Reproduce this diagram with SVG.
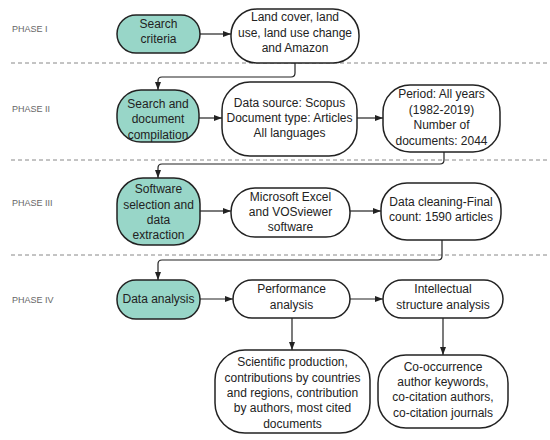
<svg xmlns="http://www.w3.org/2000/svg" width="550" height="440" viewBox="0 0 550 440">
<defs>
<marker id="ah" markerUnits="userSpaceOnUse" markerWidth="8" markerHeight="8" viewBox="0 0 8 8" refX="8" refY="4" orient="auto">
<path d="M0,1 L8,4 L0,7 Z" fill="#222"/>
</marker>
<style>
.n{fill:#fff;stroke:#222;stroke-width:1.5}
.t{fill:#98d6c8}
.tx{font-family:"Liberation Sans",Arial,sans-serif;font-size:12px;fill:#222;text-anchor:middle}
.ph{font-family:"Liberation Sans",Arial,sans-serif;font-size:9px;fill:#666}
.d{stroke:#888;stroke-width:1;stroke-dasharray:4,3;fill:none}
.c{stroke:#222;stroke-width:1.2;fill:none;marker-end:url(#ah)}
</style>
</defs>
<rect width="550" height="440" fill="#fff"/>
<g id="labels">
<text class="ph" x="12" y="31.5">PHASE I</text>
<text class="ph" x="12" y="111.5">PHASE II</text>
<text class="ph" x="12" y="205.5">PHASE III</text>
<text class="ph" x="12" y="302.5">PHASE IV</text>
</g>
<g id="dividers">
<line class="d" x1="11" y1="63" x2="548" y2="63"/>
<line class="d" x1="11" y1="160" x2="548" y2="160"/>
<line class="d" x1="11" y1="255" x2="548" y2="255"/>
</g>
<g id="connectors">
<path class="c" d="M200,34 H231"/>
<path class="c" d="M295,63 V73 Q295,77 291,77 H162 Q158,77 158,81 V90"/>
<path class="c" d="M199,118 H222"/>
<path class="c" d="M357,118 H383"/>
<path class="c" d="M444,152 V160 Q444,164 440,164 H162 Q158,164 158,168 V178"/>
<path class="c" d="M200,211 H231"/>
<path class="c" d="M350,211 H381"/>
<path class="c" d="M442,240 V256 Q442,260 438,260 H162 Q158,260 158,264 V280"/>
<path class="c" d="M200,299 H233"/>
<path class="c" d="M350,299 H383"/>
<path class="c" d="M292,318 V350"/>
<path class="c" d="M443,318 V355"/>
</g>
<g id="n1"><rect class="n t" x="117" y="15" width="83" height="38" rx="19"/>
<text class="tx"><tspan x="158.5" y="28.3">Search</tspan><tspan x="158.5" y="43.3">criteria</tspan></text></g>
<g id="n2"><rect class="n" x="231" y="9" width="128" height="54" rx="26"/>
<text class="tx"><tspan x="295" y="21">Land cover, land</tspan><tspan x="295" y="36.5">use, land use change</tspan><tspan x="295" y="52">and Amazon</tspan></text></g>
<g id="n3"><rect class="n t" x="117" y="90" width="82" height="52" rx="24"/>
<text class="tx"><tspan x="158" y="108.3">Search and</tspan><tspan x="158" y="123.3">document</tspan><tspan x="158" y="138.8">compilation</tspan></text></g>
<g id="n4"><rect class="n" x="222" y="82" width="135" height="74" rx="28"/>
<text class="tx"><tspan x="289.5" y="107.3">Data source: Scopus</tspan><tspan x="289.5" y="122.3">Document type: Articles</tspan><tspan x="289.5" y="137.3">All languages</tspan></text></g>
<g id="n5"><rect class="n" x="383" y="85" width="117" height="67" rx="27"/>
<text class="tx"><tspan x="441.5" y="98.3">Period: All years</tspan><tspan x="441.5" y="113.8">(1982-2019)</tspan><tspan x="441.5" y="129.3">Number of</tspan><tspan x="441.5" y="144.5">documents: 2044</tspan></text></g>
<g id="n6"><rect class="n t" x="117" y="178" width="83" height="67" rx="26"/>
<text class="tx"><tspan x="158.5" y="193.3">Software</tspan><tspan x="158.5" y="208.5">selection and</tspan><tspan x="158.5" y="223.5">data</tspan><tspan x="158.5" y="239">extraction</tspan></text></g>
<g id="n7"><rect class="n" x="231" y="188" width="119" height="49" rx="24"/>
<text class="tx"><tspan x="290.5" y="201.3">Microsoft Excel</tspan><tspan x="290.5" y="216.3">and VOSviewer</tspan><tspan x="290.5" y="231.3">software</tspan></text></g>
<g id="n8"><rect class="n" x="381" y="183" width="120" height="57" rx="26"/>
<text class="tx"><tspan x="441" y="206.3">Data cleaning-Final</tspan><tspan x="441" y="221.3">count: 1590 articles</tspan></text></g>
<g id="n9"><rect class="n t" x="117" y="280" width="83" height="39" rx="19"/>
<text class="tx"><tspan x="158.5" y="303.3">Data analysis</tspan></text></g>
<g id="n10"><rect class="n" x="233" y="280" width="117" height="38" rx="19"/>
<text class="tx"><tspan x="291.5" y="293.3">Performance</tspan><tspan x="291.5" y="309.3">analysis</tspan></text></g>
<g id="n11"><rect class="n" x="383" y="280" width="120" height="38" rx="19"/>
<text class="tx"><tspan x="443" y="293.3">Intellectual</tspan><tspan x="443" y="309.3">structure analysis</tspan></text></g>
<g id="n12"><rect class="n" x="215" y="350" width="155" height="83" rx="30"/>
<text class="tx"><tspan x="292.5" y="366.3">Scientific production,</tspan><tspan x="292.5" y="381.5">contributions by countries</tspan><tspan x="292.5" y="396.8">and regions, contribution</tspan><tspan x="292.5" y="412.3">by authors, most cited</tspan><tspan x="292.5" y="428">documents</tspan></text></g>
<g id="n13"><rect class="n" x="378" y="355" width="130" height="73" rx="28"/>
<text class="tx"><tspan x="443" y="371.3">Co-occurrence</tspan><tspan x="443" y="386.3">author keywords,</tspan><tspan x="443" y="401.3">co-citation authors,</tspan><tspan x="443" y="417">co-citation journals</tspan></text></g>
</svg>
